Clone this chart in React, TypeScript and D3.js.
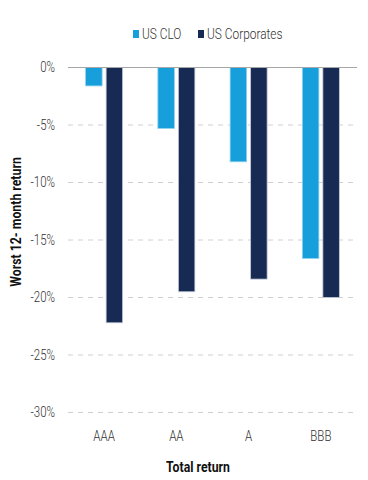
import React, {useEffect, useRef} from 'react';
import * as d3 from 'd3';

// data (worst 12-month total return, %)
const ratings = ['AAA', 'AA', 'A', 'BBB'];
const usClo = [-1.6, -5.3, -8.2, -16.6];
const usCorporates = [-22.2, -19.5, -18.4, -20.0];
const seriesNames = ['US CLO', 'US Corporates'];
const yTicks = [0, -5, -10, -15, -20, -25, -30];

const colors = ['#179fdb', '#172a54'];
const strokes = ['#8fd0ee', '#c4cad6'];

// the original uses a condensed face; squeeze Roboto horizontally
const squeeze = 0.82;

export default function App() {
  const ref = useRef<SVGSVGElement>(null);

  useEffect(() => {
    const svg = d3.select(ref.current);
    svg.selectAll('*').remove();
    const width = 368;
    const height = 480;
    const margin = {top: 67.5, right: 11, bottom: 67.5, left: 68};
    const font = 'Roboto, sans-serif';

    const x = d3
      .scaleBand()
      .domain(ratings)
      .range([margin.left, width - margin.right]);
    const y = d3
      .scaleLinear()
      .domain([0, -30])
      .range([margin.top, height - margin.bottom]);

    // grid lines
    svg
      .append('g')
      .selectAll('line')
      .data(yTicks.filter((t) => t !== 0))
      .enter()
      .append('line')
      .attr('x1', margin.left)
      .attr('x2', width - margin.right)
      .attr('y1', (d) => y(d))
      .attr('y2', (d) => y(d))
      .style('stroke', '#d0d0d0')
      .style('stroke-width', 1)
      .style('stroke-dasharray', '5,5');

    // y tick labels
    svg
      .append('g')
      .selectAll('text')
      .data(yTicks)
      .enter()
      .append('text')
      .attr('transform', (d) => `translate(55,${y(d)}) scale(${squeeze},1)`)
      .attr('dy', '0.35em')
      .attr('text-anchor', 'end')
      .style('font-family', font)
      .style('font-weight', 300)
      .style('font-size', 14)
      .style('fill', '#333')
      .text((d) => d + '%');

    // bars
    const barW = 16.5;
    const gap = 4;
    const groups = [usClo, usCorporates];
    groups.forEach((vals, s) => {
      svg
        .append('g')
        .selectAll('rect')
        .data(vals)
        .enter()
        .append('rect')
        .attr('x', (d, i) => {
          const c = x(ratings[i])! + x.bandwidth() / 2;
          return s === 0 ? c - gap / 2 - barW : c + gap / 2;
        })
        .attr('y', y(0))
        .attr('width', barW)
        .attr('height', (d) => y(d) - y(0))
        .style('fill', colors[s])
        .style('stroke', strokes[s])
        .style('stroke-width', 0.8);
    });

    // zero line
    svg
      .append('line')
      .attr('x1', margin.left)
      .attr('x2', width - margin.right)
      .attr('y1', y(0))
      .attr('y2', y(0))
      .style('stroke', '#a6a6a6')
      .style('stroke-width', 1);

    // x tick labels
    svg
      .append('g')
      .selectAll('text')
      .data(ratings)
      .enter()
      .append('text')
      .attr(
        'transform',
        (d) => `translate(${x(d)! + x.bandwidth() / 2},441) scale(${squeeze},1)`
      )
      .attr('text-anchor', 'middle')
      .style('font-family', font)
      .style('font-weight', 300)
      .style('font-size', 14)
      .style('fill', '#333')
      .text((d) => d);

    // axis titles
    svg
      .append('text')
      .attr('transform', `translate(198,472) scale(${squeeze},1)`)
      .attr('text-anchor', 'middle')
      .style('font-family', font)
      .style('font-weight', 700)
      .style('font-size', 15)
      .style('fill', '#111')
      .text('Total return');

    svg
      .append('text')
      .attr('transform', `translate(21,222) rotate(-90) scale(${squeeze},1)`)
      .attr('text-anchor', 'middle')
      .style('font-family', font)
      .style('font-weight', 700)
      .style('font-size', 15)
      .style('fill', '#111')
      .text('Worst 12- month return');

    // legend
    const legendX = [133, 198];
    const leg = svg
      .append('g')
      .selectAll('g')
      .data(seriesNames)
      .enter()
      .append('g')
      .attr('transform', (d, i) => `translate(${legendX[i]},30)`);
    leg
      .append('rect')
      .attr('width', 6)
      .attr('height', 8)
      .style('fill', (d, i) => colors[i]);
    leg
      .append('text')
      .attr('transform', `translate(9,4) scale(${squeeze},1)`)
      .attr('dy', '0.35em')
      .style('font-family', font)
      .style('font-weight', 300)
      .style('font-size', 14.5)
      .style('fill', '#333')
      .text((d) => d);
  }, []);

  return (
    <svg
      ref={ref}
      width={368}
      height={480}
      style={{position: 'absolute', left: 0, top: 0, background: '#fff'}}
    />
  );
}
